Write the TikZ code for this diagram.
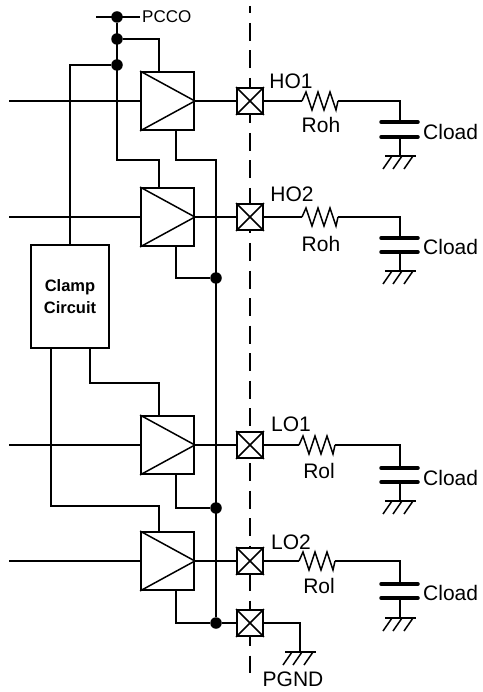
\documentclass[tikz,border=0pt]{standalone}
\usepackage{fontspec}
\setmainfont{Liberation Sans}
\usepackage{tikz}

\tikzset{
  wire/.style={line width=1.5pt, line join=miter},
  buffer/.style={draw, rectangle, line width=1.8pt, inner sep=0pt, minimum width=53pt, minimum height=58pt},
  padbox/.style={draw, rectangle, fill=white, line width=1.8pt, inner sep=0pt, minimum size=26pt},
  dotnode/.style={circle, fill=black, inner sep=0pt, minimum size=11.5pt},
  lbl/.style={inner sep=0pt, font=\fontsize{21}{24}\selectfont},
  resistor/.pic={\draw[wire] (0,0) -- (4,-9) -- (10,9) -- (16,-9) -- (22,9) -- (28,-9) -- (34,9) -- (36,0);},
  gndsym/.pic={
    \draw[wire] (-15,0) -- (16,0);
    \draw[wire] (-8,0) -- (-17,13);
    \draw[wire] (2,0) -- (-7,13);
    \draw[wire] (13,0) -- (4,13);
  },
}

\begin{document}
\begin{tikzpicture}[x=1pt, y=-1pt]

\useasboundingbox (0,0) rectangle (482,692);

% isolation line
\draw[line width=1.5pt, dash pattern=on 18pt off 9.5pt, dash phase=10.5pt] (250,6) -- (250,673);

% buffers, pads and loads
\foreach \n/\yb/\rx/\dya/\dyb/\dyc in {1/101/302/21/36/55, 2/217/302/21/35/54, 3/445/299/23/37/56, 4/561/299/23/37/57} {
  \coordinate (IN\n) at (9,\yb);
  \node[buffer] (B\n) at (167.5,\yb) {};
  \node[padbox] (P\n) at (250,\yb) {};
  \coordinate (Ra\n) at (\rx,\yb);
  \coordinate (Rb\n) at (\rx+36,\yb);
  \coordinate (Ca\n) at (400,\yb+\dya);
  \coordinate (Cb\n) at (400,\yb+\dyb);
  \coordinate (G\n) at (400,\yb+\dyc);
  \coordinate (Tp\n) at (159,\yb-29);
  \coordinate (Bt\n) at (176,\yb+29);

  \draw[wire] (B\n.north west) -- (B\n.east) -- (B\n.south west);
  \draw[wire] (P\n.north west) -- (P\n.south east);
  \draw[wire] (P\n.north east) -- (P\n.south west);
  \draw[wire] (IN\n) -- (B\n.west);
  \draw[wire] (B\n.east) -- (P\n.west);
  \draw[wire] (P\n.east) -- (Ra\n);
  \pic at (Ra\n) {resistor};
  \draw[wire] (Rb\n) -| (Ca\n);
  \draw[line width=3.5pt, line cap=round] ([xshift=-19pt]Ca\n) -- ([xshift=18pt]Ca\n);
  \draw[line width=3.5pt, line cap=round] ([xshift=-19pt]Cb\n) -- ([xshift=18pt]Cb\n);
  \draw[wire] (Cb\n) -- (G\n);
  \pic at (G\n) {gndsym};
}

% supply
\coordinate (VL) at (96,17);
\coordinate (VR) at (140,17);
\node[dotnode] (D1) at (117,17) {};
\node[dotnode] (D2) at (117,39) {};
\node[dotnode] (D3) at (117,65) {};
\draw[wire] (VL) -- (VR);
\draw[wire] (D1) |- (159,160) -- (Tp2);
\draw[wire] (D2) -| (Tp1);

% clamp
\node[draw, rectangle, line width=1.8pt, fill=white, minimum width=78pt, minimum height=103pt, inner sep=0pt, align=center, font=\fontsize{16.5}{22}\selectfont\bfseries] (CL) at (70,296.5) {Clamp\\Circuit};
\draw[wire] (D3) -| (CL.north);
\coordinate (Cs3) at (90,348);
\coordinate (Cs4) at (51,348);
\draw[wire] (Cs3) |- (159,383) -- (Tp3);
\draw[wire] (Cs4) |- (159,506) -- (Tp4);

% ground rail
\node[dotnode] (D4) at (216,278) {};
\node[dotnode] (D5) at (216,508) {};
\node[dotnode] (D6) at (216,623) {};
\node[padbox] (P5) at (250,623) {};
\draw[wire] (P5.north west) -- (P5.south east);
\draw[wire] (P5.north east) -- (P5.south west);
\draw[wire] (Bt1) |- (216,160) -- (D6);
\draw[wire] (Bt2) |- (D4);
\draw[wire] (Bt3) |- (D5);
\draw[wire] (Bt4) |- (D6);
\draw[wire] (D6) -- (P5);
\coordinate (G5) at (300,652);
\draw[wire] (P5.east) -| (G5);
\pic at (G5) {gndsym};

% labels
\node[inner sep=0pt, anchor=west, font=\fontsize{17}{20}\selectfont] (LV) at (142,17) {PCCO};
\node[lbl] (L1) at (291,81) {HO1};
\node[lbl] (L2) at (292,194) {HO2};
\node[lbl] (L3) at (291,424) {LO1};
\node[lbl] (L4) at (291,542) {LO2};
\node[lbl] (R1) at (321,125) {Roh};
\node[lbl] (R2) at (321,244) {Roh};
\node[lbl] (R3) at (319,471) {Rol};
\node[lbl] (R4) at (319,586) {Rol};
\node[lbl, anchor=west] (C1) at (423,132) {Cload};
\node[lbl, anchor=west] (C2) at (423,247) {Cload};
\node[lbl, anchor=west] (C3) at (423,478) {Cload};
\node[lbl, anchor=west] (C4) at (423,593) {Cload};
\node[lbl] (LG) at (293,679) {PGND};

\end{tikzpicture}
\end{document}
